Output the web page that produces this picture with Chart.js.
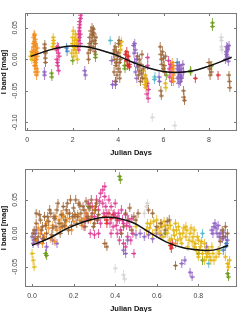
<!DOCTYPE html>
<html>
<head>
<meta charset="utf-8">
<script src="https://cdn.jsdelivr.net/npm/chart.js@4/dist/chart.umd.min.js"></script>
<style>
  html, body { margin: 0; padding: 0; background: #fff; }
  canvas { display: block; }
</style>
</head>
<body>
<canvas id="topChart" width="249" height="156"></canvas>
<canvas id="bottomChart" width="249" height="156"></canvas>
<script>
// ---- top panel: magnitude vs Julian days ----
const topOrange = [[0.25,0.012],[0.27,0.02],[0.29,0.005],[0.3,0.028],[0.32,-0.002],[0.33,0.015],[0.35,0.032],[0.36,0.008],[0.37,-0.01],[0.38,0.022],[0.4,0.0],[0.41,0.012],[0.42,-0.015],[0.43,0.005],[0.44,0.018],[0.45,-0.02],[0.3,0.04],[0.38,-0.005],
  [0.26,0.025],[0.28,0.035],[0.31,-0.01],[0.34,-0.02],[0.36,0.025],[0.39,0.01],[0.41,-0.025],[0.33,0.038],
  [6.38,-0.005],[6.4,-0.015],[6.42,-0.025],[6.43,-0.035],[6.45,-0.02],[6.4,-0.03],[6.44,-0.01]];
const topGold = [[0.15,0.005],[0.18,0.012],[0.2,0.0],[0.22,0.008],[1.12,0.02],[1.15,0.03],[1.17,0.025],[1.14,0.035],
  [1.95,0.01],[1.98,0.025],[2.0,0.035],[2.03,0.015],[2.05,0.005],[2.08,0.03],[2.1,0.02],[2.12,0.04],[2.15,0.01],[2.17,0.025],[2.2,0.0],
  [2.02,0.045],[2.07,0.02],[2.13,0.015],[2.18,0.032],
  [4.1,0.022],[4.12,0.015],[4.15,0.028],[5.12,-0.018],[5.15,-0.03],[5.18,-0.04],[5.2,-0.025],[5.22,-0.045],[5.25,-0.035],[6.1,-0.045],[6.08,-0.038]];
const topBrown = [[0.76,0.018],[0.78,0.01],[0.79,0.002],[0.8,-0.005],[0.77,0.024],[0.81,0.012],
  [2.68,0.01],[2.7,0.0],[2.72,0.02],[2.75,0.035],[2.78,0.015],[2.8,0.045],[2.83,0.028],[2.85,0.05],[2.88,0.038],[2.9,0.02],[2.93,0.042],[2.95,0.03],[2.98,0.012],[3.0,0.025],[3.02,0.035],
  [2.76,0.025],[2.86,0.04],[2.91,0.048],
  [3.8,0.01],[3.82,-0.02],[3.85,0.0],[3.87,0.02],[3.9,-0.01],[3.92,0.012],[3.95,-0.025],[3.97,0.005],[4.0,-0.015],[4.02,0.025],[4.05,-0.005],[4.07,-0.03],[4.1,0.0],[3.88,-0.035],[4.04,0.03],
  [3.83,0.015],[3.93,-0.005],[4.03,0.01],[4.08,-0.02],
  [4.85,0.005],[4.88,-0.01],[4.9,-0.025],[4.93,0.0],[4.95,-0.018],[4.98,-0.035],[5.0,-0.008],[5.03,-0.022],[5.05,0.008],[5.08,-0.03],[5.1,-0.015],
  [5.88,-0.05],[5.9,-0.058],[5.85,0.02],[5.88,0.008],[5.9,0.0],[5.93,-0.008],[5.95,0.012],[5.98,-0.015],[6.0,0.002],[6.03,-0.01],[6.05,-0.02],[6.08,0.005],
  [6.88,-0.05],[6.9,-0.06],[6.92,-0.065],[8.0,-0.005],[8.02,-0.015],[8.05,-0.025],[8.08,-0.01],[8.1,-0.02],[8.88,-0.025],[8.9,-0.035],[8.92,-0.045]];
const topMagenta = [[1.28,0.015],[1.3,0.0],[1.32,0.02],[1.34,-0.01],[1.36,0.01],[1.38,-0.018],[1.4,0.005],[1.33,-0.005],[1.37,0.018],
  [2.22,0.02],[2.25,0.03],[2.27,0.015],[2.28,0.045],[2.3,0.035],[2.32,0.055],[2.33,0.025],[2.35,0.065],[2.3,0.05],[2.34,0.04],
  [2.26,0.04],[2.31,0.06],[2.36,0.07],
  [5.22,-0.03],[5.25,-0.042],[5.27,-0.055],[5.3,-0.038],[5.32,-0.062],[5.34,-0.048],[5.3,-0.01],[5.3,0.003],
  [6.22,-0.002],[6.25,-0.015],[6.27,-0.028],[6.3,-0.008],[6.32,-0.02],[6.35,-0.035],[6.37,-0.012]];
const topPurple = [[0.75,-0.02],[0.76,-0.025],[2.53,-0.018],[2.55,-0.025],[3.72,-0.002],[3.75,-0.04],[3.9,-0.035],[3.88,-0.04],
  [4.68,0.022],[4.7,0.01],[4.72,-0.005],[4.75,0.015],[4.77,-0.02],[4.8,0.0],[4.82,-0.03],[4.85,-0.012],[4.73,0.025],[5.8,-0.028],[5.82,-0.035],
  [6.6,-0.015],[6.62,-0.03],[6.65,-0.02],[6.68,-0.038],[6.7,-0.01],[6.73,-0.025],[6.75,-0.035],[6.78,-0.015],[6.8,-0.028],[6.85,-0.008],[6.88,-0.02],
  [6.63,-0.01],[6.67,-0.028],[6.72,-0.018],[6.77,-0.03],
  [8.72,0.0],[8.75,0.012],[8.78,0.02],[8.8,0.005],[8.83,0.015],[8.85,-0.003],[8.88,0.022],[8.77,0.008],[8.82,0.018]];
const topGreen = [[1.07,-0.022],[1.08,-0.028],[2.0,-0.002],[3.0,0.003],[3.0,0.008],[4.3,-0.015],[4.28,-0.01],[6.12,-0.025],[7.2,-0.02],[7.18,-0.018],[8.15,0.052],[8.15,0.058],[8.12,-0.01]];
const topRed = [[4.32,0.008],[4.35,-0.002],[4.38,0.012],[4.4,0.0],[4.42,-0.01],[4.45,0.005],[4.48,-0.008],[4.5,-0.012],[7.4,-0.03],[8.4,-0.025]];
const topBlue = [[1.73,0.018],[1.75,0.013],[6.6,-0.005]];
const topCyan = [[3.65,0.03],[5.6,-0.032],[5.62,-0.028]];
const topGray = [[5.5,-0.092],[6.5,-0.105],[8.55,0.03],[8.55,0.02],[8.57,0.015],[8.53,0.035]];
const topFit = [[0.15,0.0045],[0.5,0.009],[1.0,0.015],[1.5,0.0192],[2.0,0.021],[2.5,0.0202],[3.0,0.0169],[3.5,0.0116],[4.0,0.0055],[4.5,-0.0026],[5.0,-0.0096],[5.5,-0.0155],[6.0,-0.0194],[6.5,-0.021],[7.0,-0.0199],[7.5,-0.0166],[8.0,-0.0108],[8.5,-0.0041],[9.0,0.0033]];

// ---- bottom panel: folded phase ----
const botBrown = [[0.01,0.005],[0.02,0.015],[0.03,-0.005],[0.04,0.02],[0.05,0.01],[0.06,0.025],[0.07,0.0],[0.08,0.018],[0.09,0.03],[0.1,0.008],[0.11,0.022],[0.12,0.035],[0.13,0.015],[0.14,0.028],[0.15,0.04],[0.16,0.02],[0.17,0.045],[0.18,0.03],[0.19,0.012],[0.2,0.038],[0.21,0.05],[0.22,0.025],[0.23,0.042],[0.24,0.018],[0.25,0.035],[0.26,0.048],[0.27,0.022],[0.28,0.04],[0.29,0.03],[0.3,0.015],[0.31,0.045],[0.32,0.028],
  [0.035,0.028],[0.055,-0.008],[0.075,0.025],[0.095,-0.002],[0.115,0.01],[0.135,0.0],[0.155,0.012],[0.175,0.005],[0.195,0.025],[0.215,0.015],[0.235,0.03],[0.255,0.01],[0.275,0.038],[0.02,0.03],[0.125,0.045],[0.185,0.05],
  [0.005,0.0],[0.015,-0.008],[0.045,0.005],[0.065,0.012],[0.085,0.035],[0.105,0.025],[0.145,0.01],[0.165,0.035],[0.205,0.028],[0.225,0.045],[0.245,0.04],[0.265,0.025],[0.285,0.05],[0.295,0.01],[0.305,0.035],[0.315,0.02],
  [0.35,-0.015],[0.36,-0.02],[0.43,0.0],[0.44,0.01],[0.45,0.03],[0.46,0.02],[0.47,0.038],[0.48,0.005],[0.49,0.025],[0.5,0.02],[0.51,0.03],[0.56,0.035],[0.58,0.03],[0.6,0.01],[0.62,0.015],[0.64,0.005],[0.65,0.018],[0.66,0.02],[0.69,-0.048],[0.905,-0.012],[0.915,0.005],[0.92,-0.005],[0.94,0.0],[0.93,0.01]];
const botOrange = [[0.02,-0.01],[0.04,0.0],[0.06,-0.005],[0.08,0.008],[0.1,0.012],[0.12,0.005],[0.13,0.02],[0.14,0.015],[0.15,0.025],[0.16,0.01],[0.17,0.03],[0.18,0.022],[0.2,0.018],[0.22,0.028],[0.24,0.012],[0.26,0.03],[0.05,-0.015],[0.09,-0.008],[0.11,-0.012],[0.19,0.005],[0.28,0.02],[0.3,0.035],
  [0.03,0.008],[0.07,0.015],[0.115,0.025],[0.135,0.008],[0.145,0.028],[0.165,0.018],[0.21,0.025],[0.23,0.02],[0.25,0.022],[0.69,-0.015]];
const botMagenta = [[0.25,0.01],[0.26,0.03],[0.27,0.02],[0.28,0.0],[0.29,0.04],[0.3,0.025],[0.31,0.05],[0.32,0.035],[0.33,0.06],[0.34,0.045],[0.35,0.07],[0.33,0.015],[0.3,-0.002],[0.36,0.03],[0.37,0.05],[0.38,0.04],[0.39,0.01],[0.4,0.025],[0.41,0.0],[0.42,0.02],[0.43,0.035],[0.44,0.015],[0.45,0.028],[0.46,-0.005],[0.47,0.01],[0.48,0.022],[0.42,-0.01],[0.45,-0.02],[0.49,-0.03],[0.4,0.045],[0.27,0.045],[0.35,0.055],[0.44,-0.015],[0.38,0.0],[0.32,0.0],
  [0.255,0.02],[0.285,0.025],[0.305,0.04],[0.315,0.02],[0.325,0.048],[0.345,0.03],[0.355,0.04],[0.375,0.015],[0.395,0.03],[0.405,0.012],[0.415,0.03],[0.425,0.005],[0.435,0.02],[0.455,0.012],[0.465,0.02],[0.475,-0.01],[0.485,0.0],[0.34,0.065]];
const botRed = [[0.35,0.025],[0.36,0.02],[0.37,0.03],[0.38,0.022],[0.39,0.028],[0.41,0.02],[0.36,0.015],[0.665,-0.018],[0.67,-0.022],[0.675,-0.015]];
const botPurple = [[0.0,-0.005],[0.01,-0.01],[0.02,0.005],[0.03,-0.015],[0.07,-0.02],[0.1,-0.01],[0.12,-0.015],[0.005,-0.015],[0.015,0.0],[0.025,-0.012],[0.05,-0.008],
  [0.44,-0.025],[0.46,-0.01],[0.45,-0.03],[0.5,-0.002],[0.52,0.0],[0.54,-0.005],[0.56,-0.002],[0.58,-0.008],[0.6,0.0],[0.62,-0.002],[0.72,-0.045],[0.735,-0.04],[0.76,-0.058],[0.77,-0.065],
  [0.84,-0.02],[0.865,0.005],[0.87,0.0],[0.875,0.01],[0.88,0.015],[0.885,0.008],[0.89,0.0],[0.895,0.012],[0.9,-0.005],[0.905,0.0],[0.915,-0.008],[0.92,0.002],[0.93,-0.005],[0.94,-0.01]];
const botGold = [[0.0,-0.03],[0.005,-0.04],[0.01,-0.05],[0.5,0.01],[0.55,0.005],[0.57,0.015],[0.58,0.0],[0.6,0.02],[0.61,0.008],[0.63,-0.005],[0.64,0.012],[0.65,0.0],[0.67,-0.008],[0.68,0.005],[0.7,-0.01],[0.71,0.0],[0.72,-0.015],[0.73,0.008],[0.74,-0.005],[0.75,-0.02],[0.76,0.0],[0.77,-0.012],[0.78,0.005],[0.79,-0.025],[0.8,-0.01],[0.81,-0.02],[0.82,-0.03],[0.83,-0.015],[0.84,-0.035],[0.85,-0.025],[0.86,-0.04],[0.87,-0.03],[0.8,-0.035],[0.83,-0.04],[0.9,-0.03],[0.93,-0.035],[0.94,-0.045],[0.945,-0.05],[0.95,-0.04],[0.62,0.015],[0.69,0.015],[0.74,0.01],[0.66,-0.01],[0.78,-0.02],
  [0.555,0.015],[0.565,0.008],[0.585,0.018],[0.595,0.005],[0.615,0.0],[0.625,0.01],[0.635,0.018],[0.655,0.008],[0.665,0.012],[0.685,-0.003],[0.695,0.005],[0.705,0.01],[0.715,-0.008],[0.725,0.0],[0.745,0.005],[0.755,-0.01],[0.765,0.008],[0.775,-0.005],[0.785,-0.015],[0.795,-0.005],[0.805,-0.025],[0.815,-0.012],[0.835,-0.025],[0.845,-0.03],[0.855,-0.035],[0.865,-0.02],[0.875,-0.04],[0.885,-0.035],[0.895,-0.025]];
const botGreen = [[0.065,-0.03],[0.07,-0.033],[0.15,0.025],[0.27,0.04],[0.42,0.085],[0.425,0.08],[0.8,-0.03],[0.82,-0.04],[0.64,0.0],[0.94,-0.06],[0.945,-0.065]];
const botCyan = [[0.82,0.0],[0.85,-0.045],[0.9,-0.025]];
const botBlue = [[0.93,-0.02],[0.935,-0.015],[0.92,-0.025]];
const botGray = [[0.4,-0.052],[0.44,-0.062],[0.445,-0.068],[0.55,0.04],[0.555,0.045],[0.54,0.03]];
const botFit = [[0,-0.018],[0.087,-0.0065],[0.167,0.007],[0.247,0.017],[0.327,0.0233],[0.37,0.024],[0.407,0.023],[0.487,0.0158],[0.567,0.001],[0.647,-0.013],[0.727,-0.0215],[0.808,-0.025],[0.872,-0.025],[0.944,-0.018]];

// tick labels
const topXTicks = [0, 2, 4, 6, 8];
const topYTicks = [-0.10, -0.05, 0.00, 0.05];
const botXTicks = [0.0, 0.2, 0.4, 0.6, 0.8];
const botYTicks = [-0.05, 0.00, 0.05];

const colors = {
    orange: '#f28c1e', gold: '#e4b40a', brown: '#9b6436', magenta: '#df3a93', purple: '#8c5fc1',
    green: '#6a9a14', red: '#dc2323', blue: '#3d7fc0', cyan: '#52b8cc', gray: '#d4d4d4'
};

// small error-bar marker: vertical bar, short horizontal bar, dot
function makeMarker(color) {
    const c = document.createElement('canvas');
    c.width = 5; c.height = 9;
    const g = c.getContext('2d');
    g.globalAlpha = 0.8;
    g.fillStyle = color;
    g.fillRect(2, 0, 1, 9);
    g.fillRect(0, 4, 5, 1);
    g.beginPath();
    g.arc(2.5, 4.5, 1.6, 0, Math.PI * 2);
    g.fill();
    return c;
}

// frame, inside ticks, labels and titles
const framePlugin = {
    id: 'frame',
    afterDraw(chart, args, opts) {
        const { ctx, chartArea: a, scales: { x, y } } = chart;
        ctx.save();
        ctx.strokeStyle = '#7a7a7a';
        ctx.lineWidth = 1;
        ctx.strokeRect(a.left + 0.5, a.top + 0.5, a.right - a.left - 1, a.bottom - a.top - 1);
        ctx.beginPath();
        opts.xTicks.forEach(v => {
            const px = Math.round(x.getPixelForValue(v)) + 0.5;
            ctx.moveTo(px, a.bottom); ctx.lineTo(px, a.bottom - 3);
            ctx.moveTo(px, a.top); ctx.lineTo(px, a.top + 3);
        });
        opts.yTicks.forEach(v => {
            const py = Math.round(y.getPixelForValue(v)) + 0.5;
            ctx.moveTo(a.left, py); ctx.lineTo(a.left + 3, py);
            ctx.moveTo(a.right, py); ctx.lineTo(a.right - 3, py);
        });
        ctx.stroke();

        ctx.fillStyle = '#444';
        ctx.font = '7px "Liberation Sans", Arial, sans-serif';
        ctx.textAlign = 'center';
        ctx.textBaseline = 'middle';
        opts.xTicks.forEach(v => {
            ctx.fillText(v.toFixed(opts.xDigits), x.getPixelForValue(v), a.bottom + 9);
        });
        opts.yTicks.forEach(v => {
            ctx.save();
            ctx.translate(15, y.getPixelForValue(v));
            ctx.rotate(-Math.PI / 2);
            ctx.fillText(v.toFixed(2), 0, 0);
            ctx.restore();
        });

        ctx.fillStyle = '#111';
        ctx.font = 'bold 7.5px "Liberation Sans", Arial, sans-serif';
        ctx.fillText('Julian Days', (a.left + a.right) / 2, a.bottom + 22);
        ctx.save();
        ctx.translate(4, (a.top + a.bottom) / 2);
        ctx.rotate(-Math.PI / 2);
        ctx.fillText('I band [mag]', 0, 0);
        ctx.restore();
        ctx.restore();
    }
};

function buildSets(groups, fit, markers) {
    const sets = groups.map(([pts, col]) => ({
        data: pts,
        pointStyle: markers[col],
        pointRadius: 3,
        order: 1
    }));
    sets.push({
        data: fit,
        showLine: true,
        borderColor: '#111',
        borderWidth: 1.5,
        pointRadius: 0,
        tension: 0.4,
        order: 0
    });
    return sets;
}

function renderPanel(id, sets, xr, yr, frameOpts) {
    new Chart(document.getElementById(id).getContext('2d'), {
        type: 'scatter',
        data: { datasets: sets },
        options: {
            responsive: false,
            animation: false,
            devicePixelRatio: 1,
            layout: { padding: { left: 25, right: 12, top: 13, bottom: 25 } },
            plugins: { legend: { display: false }, tooltip: { enabled: false }, frame: frameOpts },
            scales: {
                x: { type: 'linear', display: false, min: xr[0], max: xr[1] },
                y: { type: 'linear', display: false, min: yr[0], max: yr[1] }
            }
        },
        plugins: [framePlugin]
    });
}

document.addEventListener('DOMContentLoaded', () => {
    const markers = {};
    Object.keys(colors).forEach(k => { markers[k] = makeMarker(colors[k]); });

    const topSets = buildSets([
        [topGray, 'gray'], [topBrown, 'brown'], [topOrange, 'orange'], [topGold, 'gold'], [topPurple, 'purple'],
        [topMagenta, 'magenta'], [topRed, 'red'], [topGreen, 'green'], [topBlue, 'blue'], [topCyan, 'cyan']
    ], topFit, markers);
    const botSets = buildSets([
        [botGray, 'gray'], [botBrown, 'brown'], [botOrange, 'orange'], [botGold, 'gold'], [botPurple, 'purple'],
        [botMagenta, 'magenta'], [botRed, 'red'], [botGreen, 'green'], [botBlue, 'blue'], [botCyan, 'cyan']
    ], botFit, markers);

    renderPanel('topChart', topSets, [-0.101, 9.234], [-0.1138, 0.0735],
        { xTicks: topXTicks, yTicks: topYTicks, xDigits: 0 });
    renderPanel('bottomChart', botSets, [-0.0337, 0.986], [-0.080, 0.096],
        { xTicks: botXTicks, yTicks: botYTicks, xDigits: 1 });
});
</script>
</body>
</html>
